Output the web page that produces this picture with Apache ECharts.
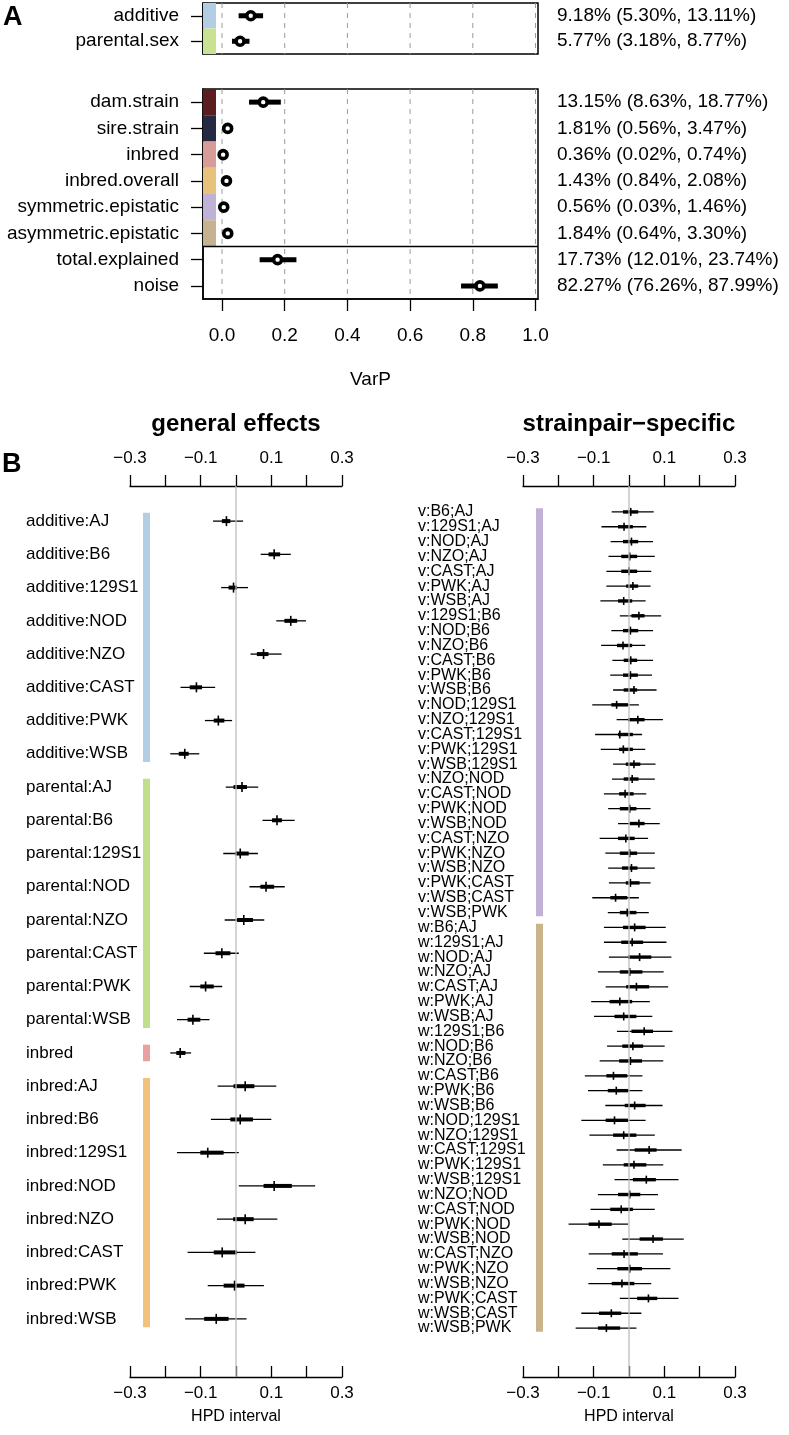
<!DOCTYPE html>
<html><head><meta charset="utf-8">
<script src="https://cdn.jsdelivr.net/npm/echarts@6/dist/echarts.min.js"></script>
<style>html,body{margin:0;padding:0;background:#fff}#c{width:789px;height:1435px}</style>
</head><body><div id="c"></div>
<script>
// ================= Panel A: variance proportions (percent) =================
const varCatsTop = ['additive', 'parental.sex'];
const varEstTop = [9.18, 5.77];
const varLoTop  = [5.30, 3.18];
const varHiTop  = [13.11, 8.77];

const varCatsBottom = ['dam.strain', 'sire.strain', 'inbred', 'inbred.overall',
  'symmetric.epistatic', 'asymmetric.epistatic', 'total.explained', 'noise'];
const varEstBottom = [13.15, 1.81, 0.36, 1.43, 0.56, 1.84, 17.73, 82.27];
const varLoBottom  = [8.63, 0.56, 0.02, 0.84, 0.03, 0.64, 12.01, 76.26];
const varHiBottom  = [18.77, 3.47, 0.74, 2.08, 1.46, 3.30, 23.74, 87.99];
const varComponentsBottom = ['dam.strain', 'sire.strain', 'inbred', 'inbred.overall',
  'symmetric.epistatic', 'asymmetric.epistatic'];
const varTicks = [0, 0.2, 0.4, 0.6, 0.8, 1.0];

// ================= Panel B: general effects =================
const genCats = ['additive:AJ','additive:B6','additive:129S1','additive:NOD','additive:NZO','additive:CAST','additive:PWK','additive:WSB',
  'parental:AJ','parental:B6','parental:129S1','parental:NOD','parental:NZO','parental:CAST','parental:PWK','parental:WSB',
  'inbred',
  'inbred:AJ','inbred:B6','inbred:129S1','inbred:NOD','inbred:NZO','inbred:CAST','inbred:PWK','inbred:WSB'];
const genLo95 = [-0.065, 0.070,-0.042, 0.114, 0.041,-0.157,-0.088,-0.186,
  -0.029, 0.075,-0.036, 0.038,-0.032,-0.091,-0.131,-0.167,
  -0.186,
  -0.052,-0.071,-0.167, 0.008,-0.054,-0.137,-0.080,-0.144];
const genLo50 = [-0.040, 0.092,-0.021, 0.137, 0.059,-0.131,-0.063,-0.162,
  -0.007, 0.102,-0.002, 0.069, 0.003,-0.058,-0.101,-0.137,
  -0.169,
  -0.007,-0.016,-0.101, 0.078,-0.008,-0.063,-0.035,-0.090];
const genMed  = [-0.027, 0.108,-0.007, 0.155, 0.078,-0.112,-0.050,-0.145,
   0.017, 0.116, 0.012, 0.085, 0.022,-0.040,-0.086,-0.122,
  -0.158,
   0.026, 0.012,-0.080, 0.108, 0.026,-0.039,-0.004,-0.056];
const genHi50 = [-0.016, 0.125, 0.003, 0.173, 0.092,-0.096,-0.033,-0.134,
   0.031, 0.130, 0.036, 0.108, 0.048,-0.016,-0.063,-0.101,
  -0.143,
   0.052, 0.048,-0.035, 0.158, 0.050, 0.003, 0.024,-0.021];
const genHi95 = [ 0.020, 0.155, 0.034, 0.198, 0.129,-0.059,-0.011,-0.104,
   0.063, 0.166, 0.062, 0.138, 0.080, 0.008,-0.039,-0.075,
  -0.127,
   0.114, 0.100, 0.008, 0.224, 0.117, 0.055, 0.079, 0.030];

// ================= Panel B: strainpair-specific =================
const spCats = ['v:B6;AJ','v:129S1;AJ','v:NOD;AJ','v:NZO;AJ','v:CAST;AJ','v:PWK;AJ','v:WSB;AJ',
  'v:129S1;B6','v:NOD;B6','v:NZO;B6','v:CAST;B6','v:PWK;B6','v:WSB;B6',
  'v:NOD;129S1','v:NZO;129S1','v:CAST;129S1','v:PWK;129S1','v:WSB;129S1',
  'v:NZO;NOD','v:CAST;NOD','v:PWK;NOD','v:WSB;NOD',
  'v:CAST;NZO','v:PWK;NZO','v:WSB;NZO','v:PWK;CAST','v:WSB;CAST','v:WSB;PWK',
  'w:B6;AJ','w:129S1;AJ','w:NOD;AJ','w:NZO;AJ','w:CAST;AJ','w:PWK;AJ','w:WSB;AJ',
  'w:129S1;B6','w:NOD;B6','w:NZO;B6','w:CAST;B6','w:PWK;B6','w:WSB;B6',
  'w:NOD;129S1','w:NZO;129S1','w:CAST;129S1','w:PWK;129S1','w:WSB;129S1',
  'w:NZO;NOD','w:CAST;NOD','w:PWK;NOD','w:WSB;NOD',
  'w:CAST;NZO','w:PWK;NZO','w:WSB;NZO','w:PWK;CAST','w:WSB;CAST','w:WSB;PWK'];
const spLo95 = [-0.049,-0.078,-0.052,-0.058,-0.064,-0.064,-0.081,-0.026,-0.050,-0.079,-0.047,-0.053,-0.045,-0.104,
  -0.035,-0.096,-0.080,-0.045,-0.048,-0.071,-0.059,-0.031,-0.083,-0.067,-0.059,-0.057,-0.104,-0.060,
  -0.071,-0.071,-0.057,-0.088,-0.066,-0.107,-0.099,-0.034,-0.062,-0.083,-0.125,-0.116,-0.067,-0.135,
  -0.112,-0.035,-0.074,-0.041,-0.088,-0.109,-0.171,-0.019,-0.114,-0.091,-0.115,-0.026,-0.135,-0.151];
const spLo50 = [-0.017,-0.031,-0.017,-0.022,-0.022,-0.008,-0.031, 0.007,-0.017,-0.034,-0.015,-0.017,-0.015,-0.050,
  -0.003,-0.031,-0.028,-0.009,-0.015,-0.028,-0.026, 0.002,-0.031,-0.026,-0.020,-0.009,-0.053,-0.026,
  -0.017,-0.022,-0.003,-0.026,-0.008,-0.055,-0.041, 0.007,-0.019,-0.028,-0.064,-0.060,-0.012,-0.066,
  -0.045, 0.016,-0.015, 0.011,-0.031,-0.053,-0.114, 0.030,-0.049,-0.033,-0.049, 0.023,-0.085,-0.088];
const spMed  = [ 0.005,-0.014, 0.007, 0.002, 0.000, 0.011,-0.015, 0.028, 0.004,-0.017, 0.005, 0.004, 0.014,-0.035,
   0.025,-0.026,-0.016, 0.014, 0.009,-0.011, 0.002, 0.028,-0.009, 0.002, 0.007, 0.004,-0.038,-0.005,
   0.016, 0.009, 0.030, 0.002, 0.021,-0.026,-0.015, 0.043, 0.011, 0.004,-0.044,-0.036, 0.016,-0.041,
  -0.015, 0.057, 0.014, 0.049, 0.002,-0.022,-0.085, 0.068,-0.014, 0.002,-0.020, 0.055,-0.050,-0.064];
const spHi50 = [ 0.026, 0.011, 0.026, 0.023, 0.023, 0.026, 0.009, 0.044, 0.026, 0.009, 0.023, 0.025, 0.023,-0.003,
   0.044, 0.011, 0.011, 0.032, 0.027, 0.013, 0.021, 0.044, 0.016, 0.023, 0.024, 0.030,-0.005, 0.021,
   0.047, 0.040, 0.063, 0.038, 0.057, 0.009, 0.021, 0.068, 0.040, 0.037,-0.005,-0.002, 0.047,-0.003,
   0.021, 0.078, 0.049, 0.076, 0.032, 0.011,-0.049, 0.096, 0.025, 0.037, 0.015, 0.080,-0.022,-0.025];
const spHi95 = [ 0.070, 0.049, 0.068, 0.073, 0.063, 0.061, 0.047, 0.091, 0.068, 0.046, 0.068, 0.065, 0.078, 0.028,
   0.096, 0.037, 0.046, 0.075, 0.073, 0.049, 0.061, 0.087, 0.054, 0.073, 0.073, 0.061, 0.028, 0.056,
   0.104, 0.106, 0.120, 0.098, 0.111, 0.059, 0.066, 0.123, 0.101, 0.097, 0.038, 0.038, 0.095, 0.047,
   0.073, 0.149, 0.097, 0.140, 0.082, 0.073,-0.003, 0.155, 0.096, 0.117, 0.063, 0.140, 0.035, 0.021];

const hpdMin = -0.3, hpdMax = 0.3, hpdStep = 0.1;
const hpdTickLabels = [-0.3, -0.1, 0.1, 0.3];
const zeroLine = [[0, 0], [0, 1]];

// ================= styles =================
const FONT = '"Liberation Sans", Arial, Helvetica, sans-serif';
const varStripColor = {
  'additive': '#b3cde3', 'parental.sex': '#c9e193',
  'dam.strain': '#5b1d1f', 'sire.strain': '#252a42', 'inbred': '#d79b98',
  'inbred.overall': '#e6c27d', 'symmetric.epistatic': '#c0b2d7', 'asymmetric.epistatic': '#c6b290'
};
const groupColor = {
  'additive:': '#b3cde3', 'parental:': '#bfdf8b', 'inbred': '#e8a1a3', 'inbred:': '#f0c27b',
  'v:': '#c2b0d6', 'w:': '#c9b48c'
};

// ================= helpers =================
const pct = v => v.toFixed(2) + '%';
const varTextTop = varCatsTop.map((c, i) => `${pct(varEstTop[i])} (${pct(varLoTop[i])}, ${pct(varHiTop[i])})`);
const varTextBottom = varCatsBottom.map((c, i) => `${pct(varEstBottom[i])} (${pct(varLoBottom[i])}, ${pct(varHiBottom[i])})`);
const minusFmt = v => (v < 0 ? '\u2212' : '') + Math.abs(v).toFixed(1);

function groupsOf(cats) {
  const out = [];
  cats.forEach((c, i) => {
    const k = c.includes(':') ? c.split(':')[0] + ':' : c;
    if (out.length && out[out.length - 1].key === k) out[out.length - 1].end = i;
    else out.push({ key: k, start: i, end: i });
  });
  return out.map(g => ({ value: [0, g.start, g.end], itemStyle: { color: groupColor[g.key] } }));
}

function renderVarP(params, api) {
  const y = api.value(3);
  const lo = api.coord([api.value(0), y]);
  const hi = api.coord([api.value(1), y]);
  const est = api.coord([api.value(2), y]);
  return { type: 'group', children: [
    { type: 'line', shape: { x1: lo[0], y1: lo[1], x2: hi[0], y2: hi[1] }, style: { stroke: '#000', lineWidth: 5 } },
    { type: 'circle', shape: { cx: est[0], cy: est[1], r: 4 }, style: { fill: '#fff', stroke: '#000', lineWidth: 3.6 } }
  ]};
}
function renderVarStrip(params, api) {
  const cs = params.coordSys;
  const c = api.coord([0, api.value(1)]);
  const band = api.size([0, 1])[1];
  return { type: 'rect', shape: { x: cs.x, y: c[1] - band / 2, width: 13, height: band },
    style: { fill: api.visual('color') } };
}
function renderDashed(params, api) {
  const cs = params.coordSys;
  const p = api.coord([api.value(0), 0]);
  return { type: 'line', shape: { x1: p[0], y1: cs.y, x2: p[0], y2: cs.y + cs.height },
    style: { stroke: '#9a9a9a', lineWidth: 1, lineDash: [5, 5] } };
}
function renderDivider(params, api) {
  const cs = params.coordSys;
  const c = api.coord([0, api.value(1)]);
  const band = api.size([0, 1])[1];
  const y = c[1] - band / 2;
  return { type: 'line', shape: { x1: cs.x, y1: y, x2: cs.x + cs.width, y2: y },
    style: { stroke: '#000', lineWidth: 1.5 } };
}
function renderGroupStrip(params, api) {
  const cs = params.coordSys;
  const band = api.size([0, 1])[1];
  const a = api.coord([0, api.value(1)]), b = api.coord([0, api.value(2)]);
  const inset = band * 0.25;
  return { type: 'rect', shape: { x: cs.x + 13, y: a[1] - band / 2 + inset, width: 7, height: b[1] - a[1] + band - 2 * inset },
    style: { fill: api.visual('color') } };
}
function makeHPD(thick, tickHalf) {
  return function (params, api) {
    const y = api.value(5);
    const P = k => api.coord([api.value(k), y]);
    const a = P(0), b = P(1), m = P(2), c = P(3), d = P(4);
    return { type: 'group', children: [
      { type: 'line', shape: { x1: a[0], y1: a[1], x2: d[0], y2: d[1] }, style: { stroke: '#000', lineWidth: 1.3 } },
      { type: 'line', shape: { x1: b[0], y1: b[1], x2: c[0], y2: c[1] }, style: { stroke: '#000', lineWidth: thick } },
      { type: 'line', shape: { x1: m[0], y1: m[1] - tickHalf, x2: m[0], y2: m[1] + tickHalf }, style: { stroke: '#000', lineWidth: 1.6 } }
    ]};
  };
}

const varDataTop = varCatsTop.map((c, i) => [varLoTop[i] / 100, varHiTop[i] / 100, varEstTop[i] / 100, i]);
const varDataBottom = varCatsBottom.map((c, i) => [varLoBottom[i] / 100, varHiBottom[i] / 100, varEstBottom[i] / 100, i]);
const genData = genCats.map((c, i) => [genLo95[i], genLo50[i], genMed[i], genHi50[i], genHi95[i], i]);
const spData = spCats.map((c, i) => [spLo95[i], spLo50[i], spMed[i], spHi50[i], spHi95[i], i]);

// ================= axes =================
const blackLine = { show: true, onZero: false, lineStyle: { color: '#000', width: 1.3 } };
const varXMin = -0.0606, varXMax = 1.008;

function varYAxis(grid, cats) {
  return { gridIndex: grid, type: 'category', data: cats, inverse: true,
    axisLine: { show: true, onZero: false, lineStyle: { color: '#000', width: 1.5 } },
    axisTick: { show: true, inside: false, alignWithLabel: true, length: 12, lineStyle: { color: '#000', width: 1.3 } },
    axisLabel: { interval: 0, margin: 24, fontSize: 19, color: '#000', fontFamily: FONT },
    splitLine: { show: false } };
}
function varTextAxis(grid, texts) {
  return { gridIndex: grid, type: 'category', data: texts, inverse: true, position: 'right',
    axisLine: { show: false, onZero: false }, axisTick: { show: false },
    axisLabel: { interval: 0, margin: 19, align: 'left', fontSize: 19, color: '#000', fontFamily: FONT },
    splitLine: { show: false } };
}
function rowAxis(grid, cats, margin, size) {
  return { gridIndex: grid, type: 'category', data: cats, inverse: true,
    axisLine: { show: false, onZero: false }, axisTick: { show: false },
    axisLabel: { interval: 0, margin: margin, align: 'left', fontSize: size, color: '#000', fontFamily: FONT },
    splitLine: { show: false } };
}
function hpdHidden(grid) {
  return { gridIndex: grid, type: 'value', min: hpdMin, max: hpdMax, show: false, axisLine: { onZero: false } };
}
function hpdAxis(grid, pos) {
  const top = pos === 'top';
  return { gridIndex: grid, type: 'value', position: pos, min: hpdMin, max: hpdMax, interval: hpdStep,
    axisLine: blackLine,
    axisTick: { show: true, inside: !top, length: 11, lineStyle: { color: '#000', width: 1.3 } },
    axisLabel: { customValues: hpdTickLabels, formatter: minusFmt, margin: top ? 19 : 8,
      fontSize: 17, color: '#000', fontFamily: FONT },
    splitLine: { show: false },
    name: top ? '' : 'HPD interval', nameLocation: 'middle', nameGap: 32,
    nameTextStyle: { fontSize: 16, color: '#000', fontFamily: FONT } };
}

const option = {
  animation: false,
  backgroundColor: '#fff',
  textStyle: { fontFamily: FONT },
  title: [
    { text: 'A', left: 3, top: 4, padding: 0, textStyle: { fontSize: 27, fontWeight: 'bold', color: '#000', fontFamily: FONT } },
    { text: 'B', left: 2, top: 451, padding: 0, textStyle: { fontSize: 27, fontWeight: 'bold', color: '#000', fontFamily: FONT } },
    { text: 'general effects', left: 236, textAlign: 'center', top: 412, padding: 0,
      textStyle: { fontSize: 24, fontWeight: 'bold', color: '#000', fontFamily: FONT } },
    { text: 'strainpair\u2212specific', left: 629, textAlign: 'center', top: 412, padding: 0,
      textStyle: { fontSize: 24, fontWeight: 'bold', color: '#000', fontFamily: FONT } }
  ],
  grid: [
    { left: 203, width: 335, top: 3, height: 51, show: true, borderColor: '#000', borderWidth: 1.5, backgroundColor: 'transparent' },
    { left: 203, width: 335, top: 89, height: 210, show: true, borderColor: '#000', borderWidth: 1.5, backgroundColor: 'transparent' },
    { left: 130, width: 212, top: 504.5, height: 831 },
    { left: 523, width: 212, top: 504.5, height: 831 },
    { left: 130, width: 212, top: 486, height: 891 },
    { left: 523, width: 212, top: 486, height: 891 }
  ],
  xAxis: [
    { gridIndex: 0, type: 'value', min: varXMin, max: varXMax, show: false, axisLine: { onZero: false } },
    { gridIndex: 1, type: 'value', min: varXMin, max: varXMax, position: 'bottom',
      axisLine: { show: true, onZero: false, lineStyle: { color: '#000', width: 1.5 } },
      axisTick: { show: true, customValues: varTicks, length: 12, lineStyle: { color: '#000', width: 1.3 } },
      axisLabel: { customValues: varTicks, formatter: v => v.toFixed(1), margin: 27, fontSize: 19, color: '#000', fontFamily: FONT },
      splitLine: { show: false },
      name: 'VarP', nameLocation: 'middle', nameGap: 71,
      nameTextStyle: { fontSize: 19, color: '#000', fontFamily: FONT } },
    hpdHidden(2),
    hpdHidden(3),
    hpdAxis(4, 'top'), hpdAxis(4, 'bottom'),
    hpdAxis(5, 'top'), hpdAxis(5, 'bottom')
  ],
  yAxis: [
    varYAxis(0, varCatsTop), varTextAxis(0, varTextTop),
    varYAxis(1, varCatsBottom), varTextAxis(1, varTextBottom),
    rowAxis(2, genCats, 104, 17), rowAxis(3, spCats, 105, 16),
    { gridIndex: 4, type: 'value', min: 0, max: 1, show: false, axisLine: { onZero: false } },
    { gridIndex: 5, type: 'value', min: 0, max: 1, show: false, axisLine: { onZero: false } }
  ],
  series: [
    // panel A
    { type: 'custom', xAxisIndex: 0, yAxisIndex: 0, renderItem: renderDashed, data: varTicks.map(v => [v, 0]), encode: { x: 0, y: 1 }, silent: true },
    { type: 'custom', xAxisIndex: 1, yAxisIndex: 2, renderItem: renderDashed, data: varTicks.map(v => [v, 0]), encode: { x: 0, y: 1 }, silent: true },
    { type: 'custom', xAxisIndex: 0, yAxisIndex: 0, renderItem: renderVarStrip, encode: { x: 0, y: 1 },
      data: varCatsTop.map((c, i) => ({ value: [0, i], itemStyle: { color: varStripColor[c] } })) },
    { type: 'custom', xAxisIndex: 1, yAxisIndex: 2, renderItem: renderVarStrip, encode: { x: 0, y: 1 },
      data: varComponentsBottom.map(c => ({ value: [0, varCatsBottom.indexOf(c)], itemStyle: { color: varStripColor[c] } })) },
    { type: 'custom', xAxisIndex: 1, yAxisIndex: 2, renderItem: renderDivider, encode: { x: 0, y: 1 },
      data: [[0, varCatsBottom.indexOf('total.explained')]] },
    { type: 'custom', xAxisIndex: 0, yAxisIndex: 0, renderItem: renderVarP, data: varDataTop, encode: { x: [0, 1, 2], y: 3 } },
    { type: 'custom', xAxisIndex: 1, yAxisIndex: 2, renderItem: renderVarP, data: varDataBottom, encode: { x: [0, 1, 2], y: 3 } },
    // panel B zero lines
    { type: 'line', xAxisIndex: 4, yAxisIndex: 6, data: zeroLine, symbol: 'none', lineStyle: { color: '#bdbdbd', width: 1.3 }, silent: true },
    { type: 'line', xAxisIndex: 6, yAxisIndex: 7, data: zeroLine, symbol: 'none', lineStyle: { color: '#bdbdbd', width: 1.3 }, silent: true },
    // panel B strips
    { type: 'custom', xAxisIndex: 2, yAxisIndex: 4, renderItem: renderGroupStrip, data: groupsOf(genCats), encode: { x: 0, y: [1, 2] } },
    { type: 'custom', xAxisIndex: 3, yAxisIndex: 5, renderItem: renderGroupStrip, data: groupsOf(spCats), encode: { x: 0, y: [1, 2] } },
    // panel B intervals
    { type: 'custom', xAxisIndex: 2, yAxisIndex: 4, renderItem: makeHPD(4, 5), data: genData, encode: { x: [0, 1, 2, 3, 4], y: 5 } },
    { type: 'custom', xAxisIndex: 3, yAxisIndex: 5, renderItem: makeHPD(3.4, 4), data: spData, encode: { x: [0, 1, 2, 3, 4], y: 5 } }
  ]
};

const chart = echarts.init(document.getElementById('c'), null, { renderer: 'canvas', width: 789, height: 1435 });
chart.setOption(option);
</script>
</body></html>
